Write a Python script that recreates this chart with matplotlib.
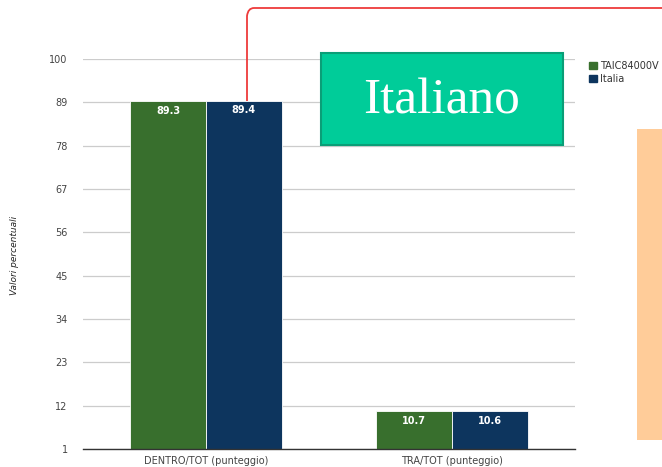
import numpy as np
import matplotlib
matplotlib.use("Agg")
import matplotlib.pyplot as plt
from matplotlib.patches import Rectangle, Patch, PathPatch
from matplotlib.path import Path

# data
categories = ["DENTRO/TOT (punteggio)", "TRA/TOT (punteggio)"]
series_names = ["TAIC84000V", "Italia"]
school_vals = [89.3, 10.7]
italy_vals = [89.4, 10.6]
yticks = [1, 12, 23, 34, 45, 56, 67, 78, 89, 100]

green = "#386f2d"
navy = "#0d355e"

W, H = 662, 467
fig = plt.figure(figsize=(W / 100, H / 100), dpi=100)
ax = fig.add_axes([83 / W, (H - 449) / H, (575 - 83) / W, (449 - 59) / H])

x = np.arange(len(categories))
bw = 0.307
b1 = ax.bar(x - bw / 2, school_vals, bw, bottom=0, color=green,
            edgecolor="white", linewidth=0.6, zorder=3)
b2 = ax.bar(x + bw / 2, italy_vals, bw, bottom=0, color=navy,
            edgecolor="white", linewidth=0.6, zorder=3)

for bars in (b1, b2):
    for r in bars:
        h = r.get_height()
        ax.text(r.get_x() + r.get_width() / 2, h - 1.2, f"{h:.1f}",
                ha="center", va="top", color="white", fontsize=7,
                fontweight="bold", zorder=4)

ax.set_xlim(-0.5, 1.5)
ax.set_ylim(1, 100)
ax.set_yticks(yticks)
ax.set_xticks(x)
ax.set_xticklabels(categories)
ax.tick_params(axis="both", length=0, labelsize=7, colors="#444444")
ax.tick_params(axis="y", pad=11)
ax.tick_params(axis="x", pad=5)
ax.grid(axis="y", color="#cccccc", linewidth=0.9, zorder=0)
for s in ("top", "right", "left"):
    ax.spines[s].set_visible(False)
ax.spines["bottom"].set_color("#333333")
ax.spines["bottom"].set_linewidth(1.0)
ax.spines["bottom"].set_zorder(5)

fig.text(15 / W, 1 - 255 / H, "Valori percentuali", rotation=90,
         ha="center", va="center", fontsize=6.5, style="italic",
         color="#222222")

# legend
handles = [Patch(color=green), Patch(color=navy)]
fig.legend(handles, series_names, loc="upper left",
           bbox_to_anchor=(580 / W, 1 - 52 / H), frameon=False,
           fontsize=7, handlelength=0.8, handleheight=0.8,
           handletextpad=0.4, labelspacing=0.3, labelcolor="#333333")

# overlay shapes from the slide
box = Rectangle((321 / W, 1 - 145 / H), (563 - 321) / W, (145 - 53) / H,
                transform=fig.transFigure, facecolor="#00cc99",
                edgecolor="#0a9e77", linewidth=1.5, zorder=10)
fig.add_artist(box)
fig.text(442 / W, 1 - 101 / H, "Italiano", ha="center", va="center",
         fontsize=37, family="Liberation Serif", color="white", zorder=11)

orange = Rectangle((637 / W, 1 - 440 / H), (W - 637) / W, (440 - 129) / H,
                   transform=fig.transFigure, facecolor="#ffcc99",
                   edgecolor="none", zorder=10)
fig.add_artist(orange)

verts = [(247, 101), (247, 16), (248, 8), (254, 8), (W, 8)]
verts = [(vx / W, 1 - vy / H) for vx, vy in verts]
codes = [Path.MOVETO, Path.LINETO, Path.CURVE3, Path.CURVE3, Path.LINETO]
red = PathPatch(Path(verts, codes), transform=fig.transFigure,
                facecolor="none", edgecolor="#ee3b3b", linewidth=1.3,
                zorder=12)
fig.add_artist(red)

fig.savefig("out.png", dpi=100)
